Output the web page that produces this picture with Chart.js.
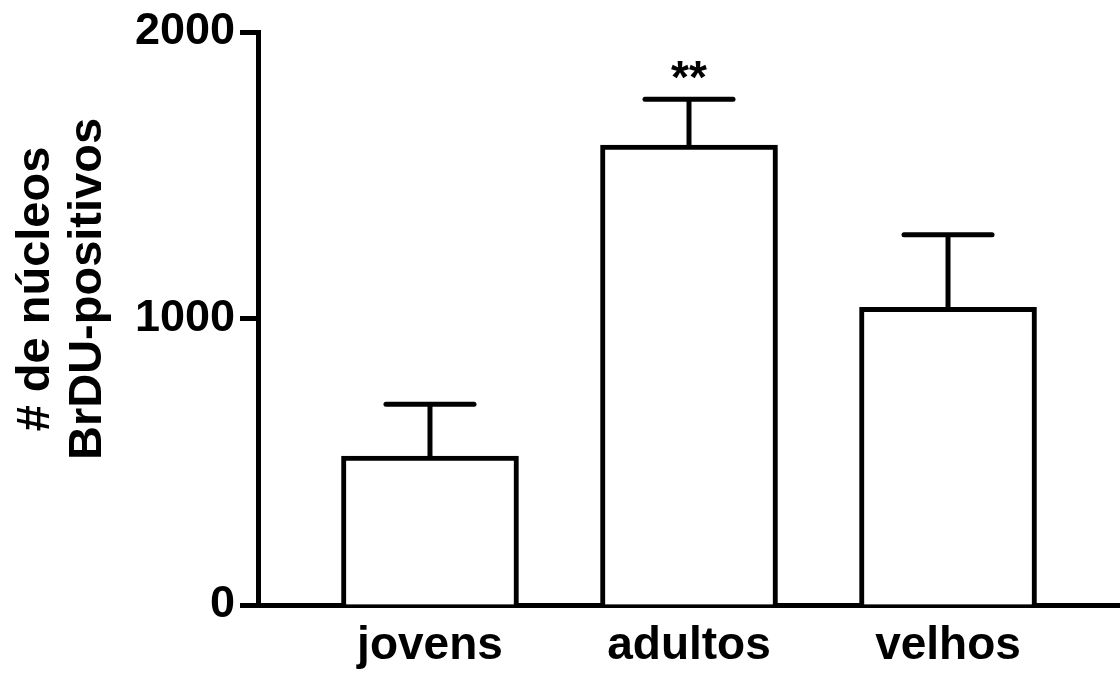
<!DOCTYPE html>
<html>
<head>
<meta charset="utf-8">
<script src="https://cdn.jsdelivr.net/npm/chart.js@4/dist/chart.umd.min.js"></script>
<style>
  html, body { margin: 0; padding: 0; background: #fff; }
  #wrap { width: 1120px; height: 675px; position: relative; }
</style>
</head>
<body>
<div id="wrap"><canvas id="grafico"></canvas></div>
<script>
// Dados
const categorias = ['jovens', 'adultos', 'velhos'];
const medias = [520, 1605, 1039];
const erros = [181, 160, 253];
const significancia = ['', '**', ''];
const yTicks = [0, 1000, 2000];
const tituloY = ['# de núcleos', 'BrDU-positivos'];

const FONTE = '"Liberation Sans", Arial, sans-serif';

// Barras de erro (só para cima) e asteriscos
const errorBars = {
    id: 'errorBars',
    afterDatasetsDraw(chart) {
        const { ctx, scales: { x, y } } = chart;
        ctx.save();
        ctx.strokeStyle = '#000';
        ctx.fillStyle = '#000';
        ctx.lineWidth = 5;
        medias.forEach((m, i) => {
            const px = x.getPixelForValue(i);
            const yBar = y.getPixelForValue(m);
            const yTop = y.getPixelForValue(m + erros[i]);
            ctx.lineCap = 'butt';
            ctx.beginPath();
            ctx.moveTo(px, yBar + 2);
            ctx.lineTo(px, yTop);
            ctx.stroke();
            ctx.lineCap = 'round';
            ctx.beginPath();
            ctx.moveTo(px - 44, yTop);
            ctx.lineTo(px + 44, yTop);
            ctx.stroke();
            if (significancia[i]) {
                ctx.font = 'bold 46px ' + FONTE;
                ctx.textAlign = 'center';
                ctx.textBaseline = 'alphabetic';
                ctx.fillText(significancia[i], px, yTop - 6);
            }
        });
        ctx.restore();
    }
};

// Título do eixo Y em duas linhas
const yTitle = {
    id: 'yTitle',
    afterDraw(chart) {
        const ctx = chart.ctx;
        const baselines = [49, 101];
        ctx.save();
        ctx.fillStyle = '#000';
        ctx.font = 'bold 47px ' + FONTE;
        ctx.textAlign = 'center';
        ctx.textBaseline = 'alphabetic';
        tituloY.forEach((t, i) => {
            ctx.save();
            ctx.translate(baselines[i], 289);
            ctx.rotate(-Math.PI / 2);
            ctx.fillText(t, 0, 0);
            ctx.restore();
        });
        ctx.restore();
    }
};

new Chart(document.getElementById('grafico'), {
    type: 'bar',
    data: {
        datasets: [{
            data: medias.map((v, i) => ({ x: i, y: v })),
            backgroundColor: '#fff',
            borderColor: '#000',
            borderWidth: 5,
            barThickness: 177
        }]
    },
    options: {
        responsive: true,
        maintainAspectRatio: false,
        animation: false,
        layout: { padding: { top: 30, left: 0, right: 0, bottom: 0 } },
        plugins: {
            legend: { display: false },
            tooltip: { enabled: false }
        },
        scales: {
            x: {
                type: 'linear',
                offset: false,
                min: -0.664,
                max: 2.664,
                afterBuildTicks: s => { s.ticks = categorias.map((c, i) => ({ value: i })); },
                afterFit: s => { s.height = 70; },
                grid: { display: false, drawTicks: false, offset: false },
                border: { display: true, color: '#000', width: 5 },
                ticks: {
                    autoSkip: false,
                    maxRotation: 0,
                    padding: 14,
                    color: '#000',
                    font: { family: FONTE, size: 46, weight: 'bold' },
                    callback: v => categorias[v]
                }
            },
            y: {
                min: 0,
                max: 2000,
                afterBuildTicks: s => { s.ticks = yTicks.map(v => ({ value: v })); },
                afterFit: s => { s.width = 258; },
                grid: {
                    drawOnChartArea: false,
                    drawTicks: true,
                    tickLength: 18,
                    tickWidth: 5,
                    tickColor: '#000'
                },
                border: { display: true, color: '#000', width: 5 },
                ticks: {
                    padding: 5,
                    color: '#000',
                    font: { family: FONTE, size: 45, weight: 'bold' },
                    callback: v => String(v)
                }
            }
        }
    },
    plugins: [errorBars, yTitle]
});
</script>
</body>
</html>
